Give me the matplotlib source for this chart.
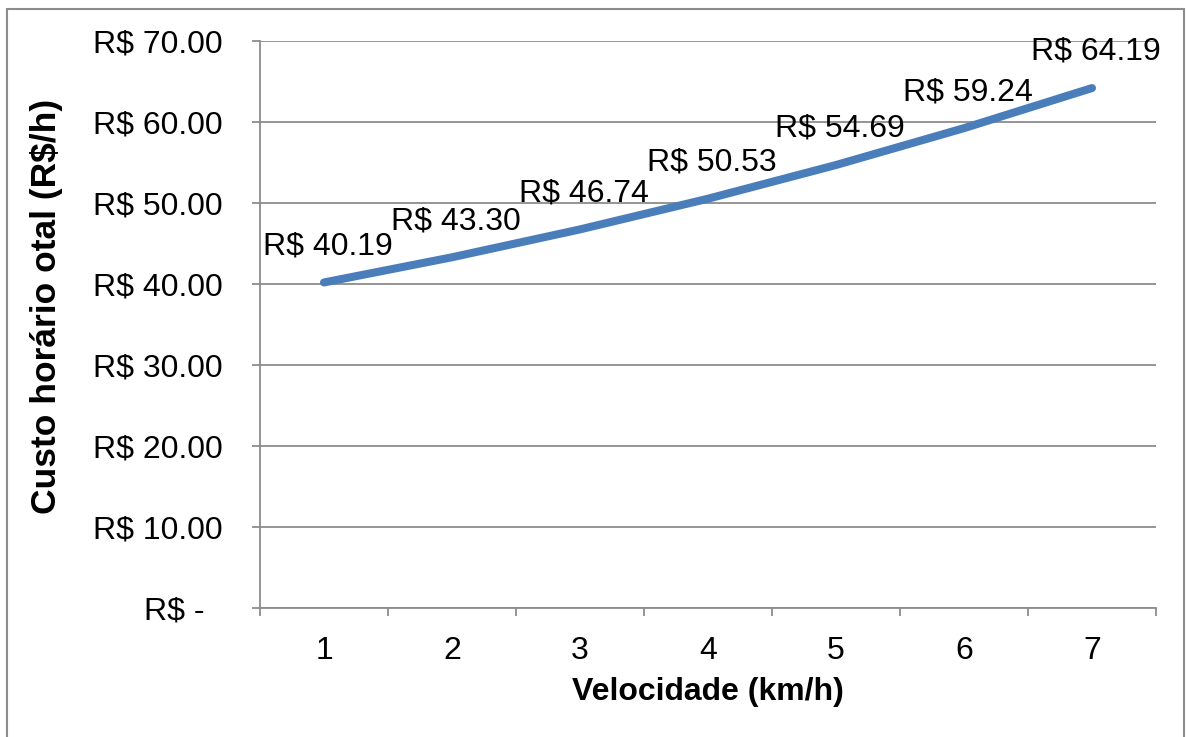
import matplotlib.pyplot as plt
from matplotlib.patches import Rectangle

plt.rcParams['font.family'] = ['Liberation Sans', 'DejaVu Sans']

# custo horário total por velocidade
velocidades = ['1', '2', '3', '4', '5', '6', '7']
custos = [40.19, 43.30, 46.74, 50.53, 54.69, 59.24, 64.19]
y_ticks = [0, 10, 20, 30, 40, 50, 60, 70]


def fmt_reais(v):
    if v == 0:
        return 'R$ -  '
    return f'R$ {v:.2f}'


fig = plt.figure(figsize=(11.86, 7.37), dpi=100)
ax = fig.add_axes([260 / 1186, 1 - 608 / 737, (1156 - 260) / 1186, (608 - 41) / 737])

x = list(range(1, len(custos) + 1))
ax.plot(x, custos, color='#4a7ebb', lw=5.8, solid_capstyle='round',
        solid_joinstyle='round', zorder=3)

for xi, c in zip(x, custos):
    ax.annotate(fmt_reais(c), (xi, c), xytext=(3, 26), textcoords='offset points',
                ha='center', va='center', fontsize=23, zorder=4)

ax.set_xlim(0.5, len(custos) + 0.5)
ax.set_ylim(0, 70)
ax.set_yticks(y_ticks)
ax.set_yticklabels([fmt_reais(v) for v in y_ticks])
ax.set_xticks(x)
ax.set_xticklabels(velocidades)
ax.set_xticks([i + 0.5 for i in range(len(custos) + 1)], minor=True)
ax.tick_params(axis='x', which='major', length=0, pad=20, labelsize=23)
ax.tick_params(axis='x', which='minor', length=6, width=1.3, color='#8c8c8c', direction='out')
ax.tick_params(axis='y', length=6, width=1.3, color='#8c8c8c', pad=21, labelsize=23)

ax.grid(axis='y', color='#8c8c8c', lw=1.3, zorder=1)
ax.set_axisbelow(True)
for side in ['top', 'right']:
    ax.spines[side].set_visible(False)
for side in ['left', 'bottom']:
    ax.spines[side].set_color('#8c8c8c')
    ax.spines[side].set_linewidth(1.3)

fig.text(708 / 1186, 1 - 692 / 737, 'Velocidade (km/h)', ha='center', va='center',
         fontsize=23, fontweight='bold')
fig.text(47 / 1186, 1 - 306 / 737, 'Custo horário otal (R$/h)', ha='center', va='center',
         rotation=90, fontsize=25.5, fontweight='bold')

# moldura do gráfico
fig.add_artist(Rectangle((7 / 1186, -0.02), (1184 - 7) / 1186, 1.02 - 9 / 737,
                         transform=fig.transFigure, fill=False,
                         edgecolor='#8c8c8c', lw=1.5))

fig.savefig('out.png', dpi=100)
